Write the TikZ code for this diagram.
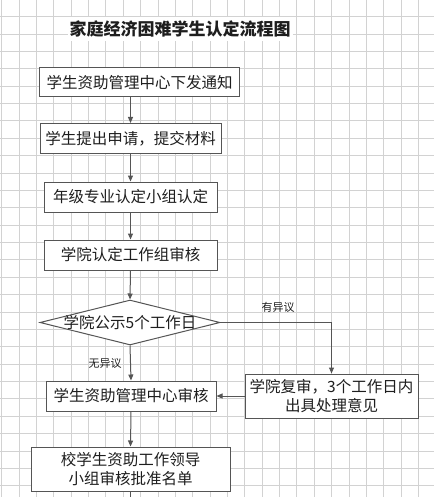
\documentclass[tikz,border=0pt]{standalone}
\usepackage{fontspec}
\setmainfont{Noto Sans CJK SC}
\usetikzlibrary{shapes.geometric, arrows.meta, positioning}
\definecolor{GridGray}{RGB}{210, 210, 210}
\definecolor{LineGray}{RGB}{85, 85, 85}
\definecolor{TextBlack}{RGB}{30, 30, 30}

\begin{document}
\begin{tikzpicture}[
    x=1pt, y=-1pt,
    >={Triangle[length=6pt, width=5pt]},
    % Define styles for the elements
    grid line/.style={
        draw=GridGray,
        line width=0.8pt
    },
    step box/.style={
        rectangle,
        draw=LineGray,          % Dark grey outline
        fill=white,             % hides the grid
        line width=1pt,
        inner sep=0pt,
        align=center,
        text=TextBlack,
        font=\fontsize{15.5}{19}\selectfont
    },
    check box/.style={
        diamond,
        draw=LineGray,
        fill=white,
        line width=1pt,
        aspect=4,
        inner xsep=0pt,
        inner ysep=-3pt,
        minimum width=180pt,
        minimum height=45pt,
        text=TextBlack,
        font=\fontsize{15.5}{19}\selectfont
    },
    branch label/.style={
        text=TextBlack,
        font=\fontsize{11}{13}\selectfont
    },
    flow line/.style={
        ->,
        draw=LineGray,
        line width=1pt
    }
]

    \useasboundingbox (0,0) rectangle (434,497);

    % --- Background grid ---
    \foreach \k in {0,...,24}
        \draw[grid line] ({1.6+17.37*\k},0) -- ++(0,497);
    \foreach \k in {0,...,28}
        \draw[grid line] (0,{-0.7+17.37*\k}) -- ++(434,0);

    % --- Title ---
    \node[fill=white, inner xsep=2pt, inner ysep=4pt, text=TextBlack,
          font=\fontsize{17}{20}\selectfont\bfseries] (title) at (180,29)
        {家庭经济困难学生认定流程图};

    % --- Main steps ---
    \node[step box, minimum width=200pt, minimum height=29pt] (notice) at (139.5,82.5)
        {学生资助管理中心下发通知};
    \node[step box, minimum width=181pt, minimum height=30pt] (apply) at (130.5,138.5)
        {学生提出申请，提交材料};
    \node[step box, minimum width=173pt, minimum height=30pt] (grade) at (130.5,197)
        {年级专业认定小组认定};
    \node[step box, minimum width=173pt, minimum height=30pt] (college) at (130.5,255)
        {学院认定工作组审核};

    % --- Public notice ---
    \node[check box] (publish) at (130,322.5) {学院公示5个工作日};

    % --- Centre review and re-check ---
    \node[step box, minimum width=170pt, minimum height=30pt] (centre) at (131,396)
        {学生资助管理中心审核};
    \node[step box, minimum width=173pt, minimum height=44pt] (recheck) at (331.5,396)
        {学院复审，3个工作日内\\出具处理意见};

    % --- Final approval ---
    \node[step box, minimum width=199pt, minimum height=44pt] (approve) at (130.5,469)
        {校学生资助工作领导\\小组审核批准名单};
    \coordinate (next) at (130.5,510);

    % --- Branch labels ---
    \node[branch label] (objection) at (278,307) {有异议};
    \node[branch label] (noobjection) at (105,363) {无异议};

    % --- Connections ---
    \draw[flow line] (notice.south -| apply.north) -- (apply.north);
    \draw[flow line] (apply.south) -- (grade.north);
    \draw[flow line] (grade.south) -- (college.north);
    \draw[flow line] (college.south) -- (publish.north);
    \draw[flow line] (publish.south) -- (centre.north);
    \draw[flow line] (publish.east) -| (recheck.north);
    \draw[flow line] (recheck.west) -- (centre.east);
    \draw[flow line] (centre.south) -- (approve.north);
    \draw[draw=LineGray, line width=1pt] (approve.south) -- (next);

\end{tikzpicture}
\end{document}
